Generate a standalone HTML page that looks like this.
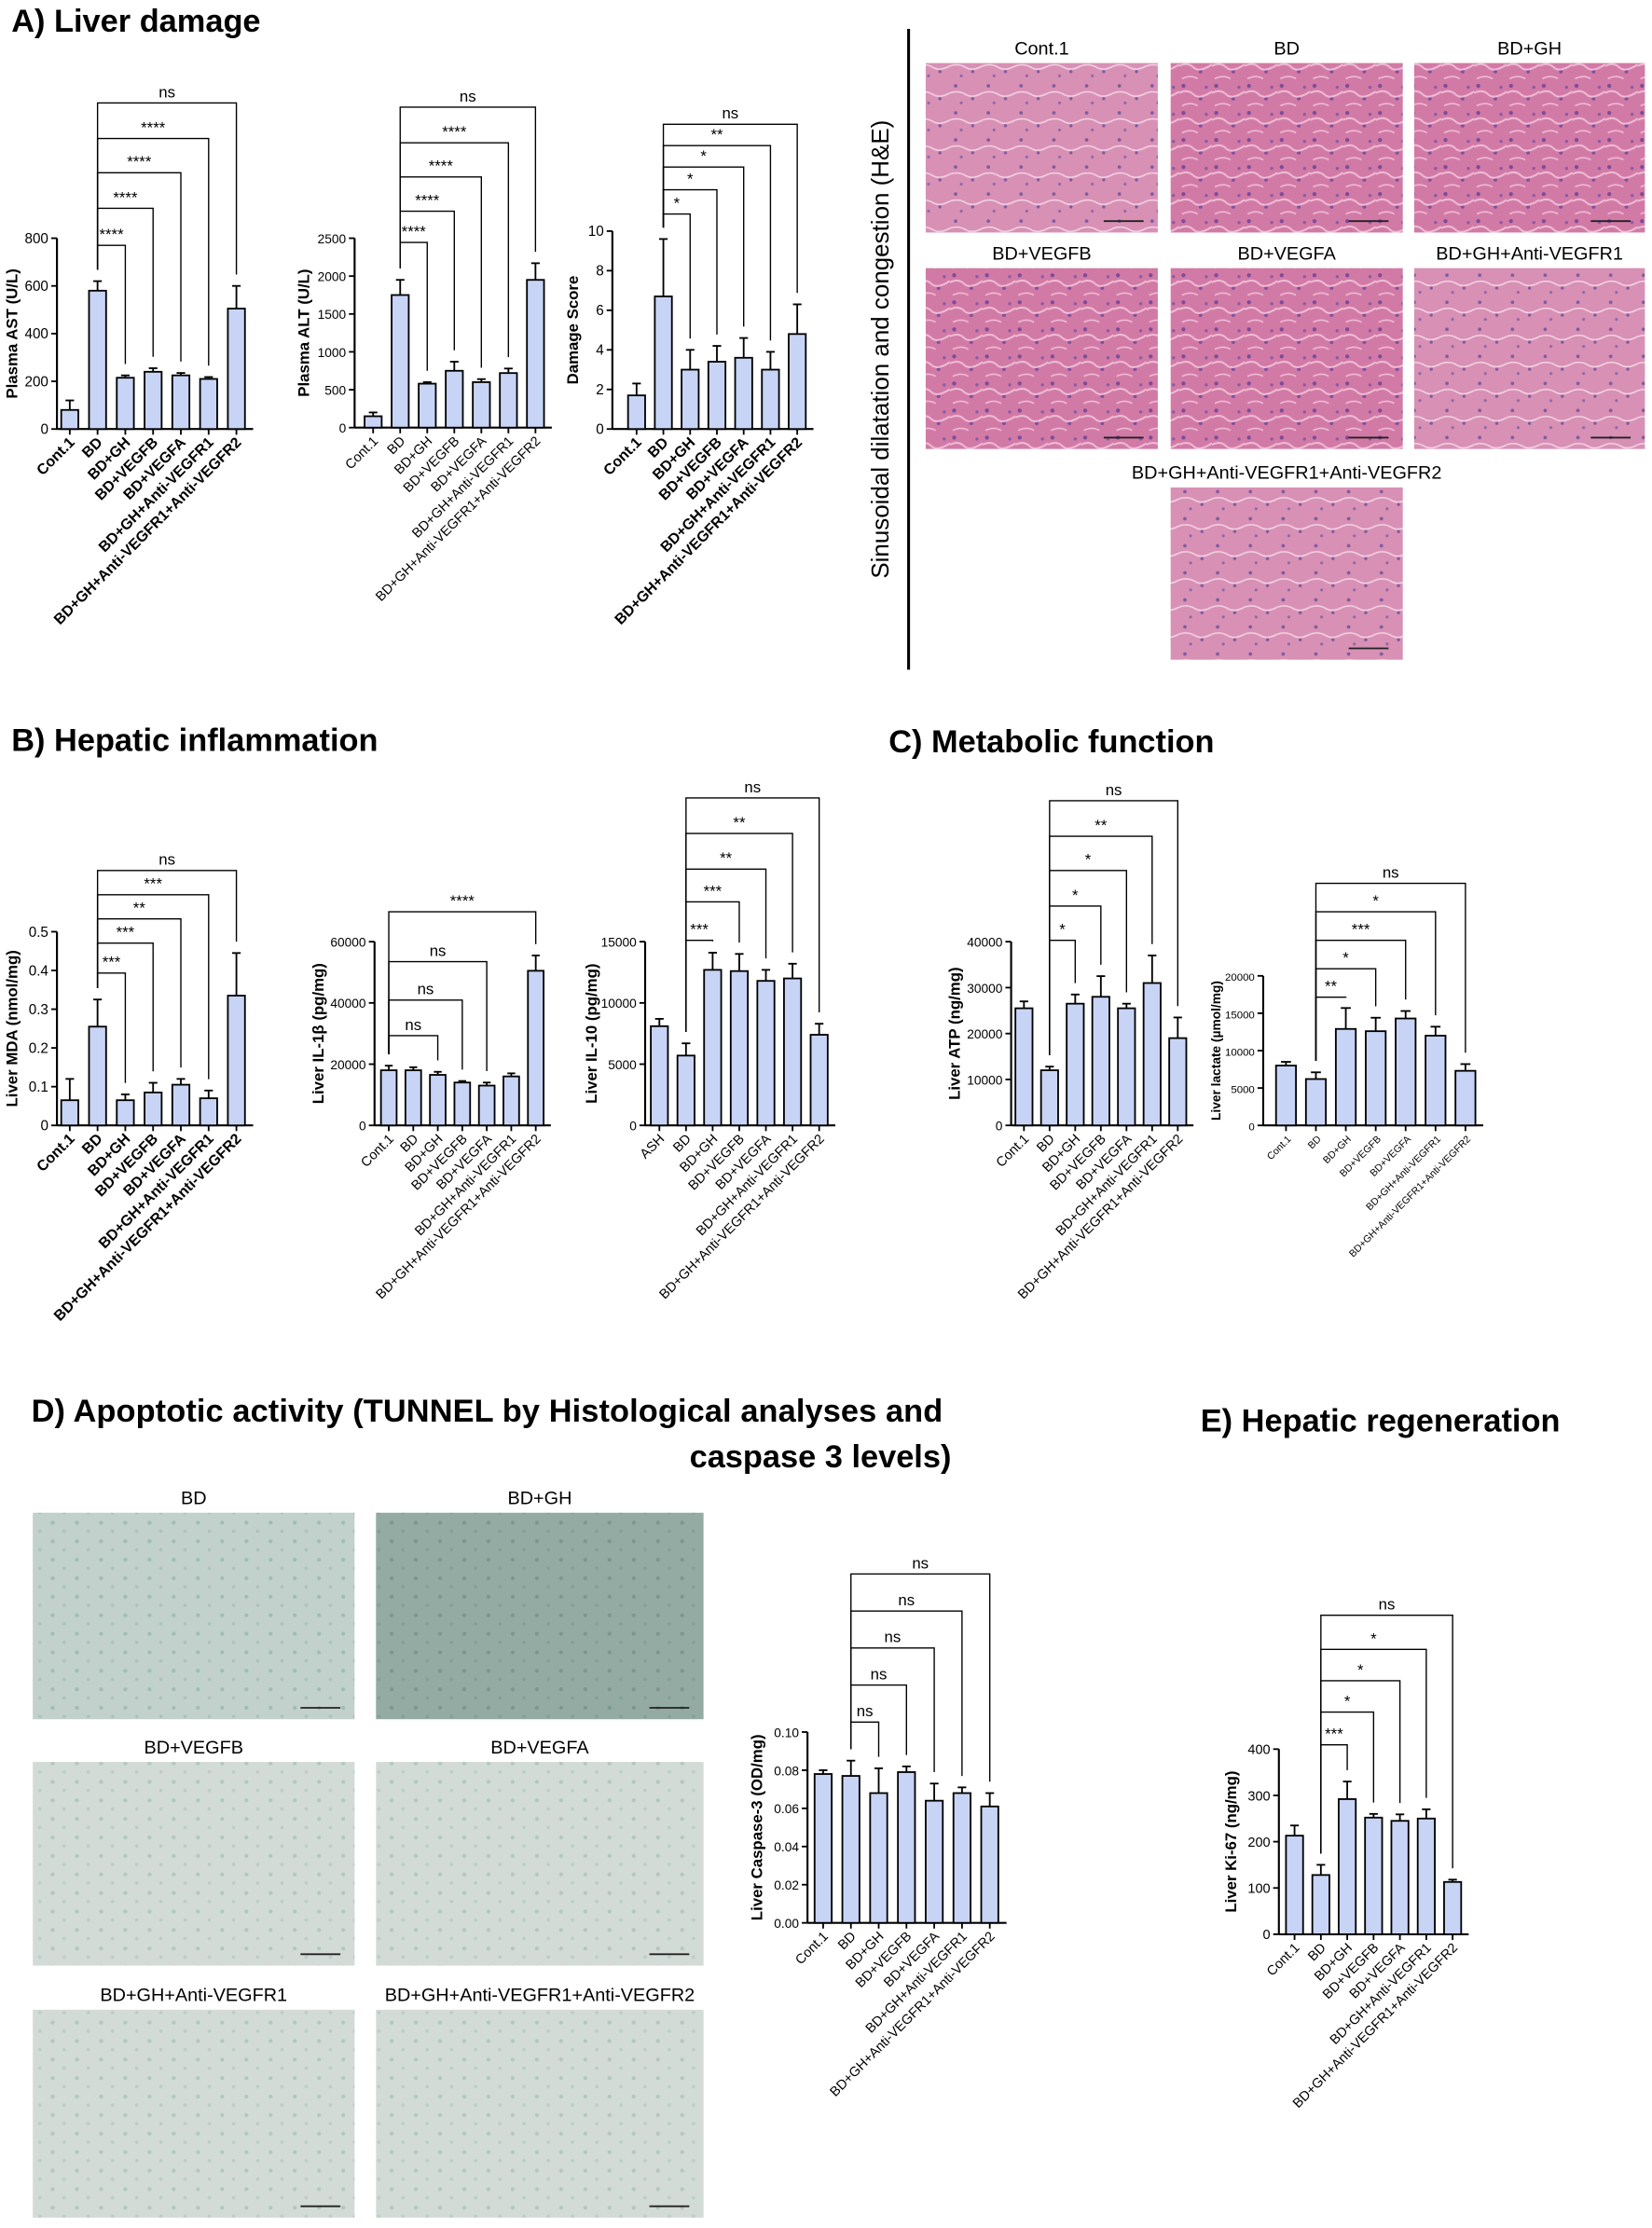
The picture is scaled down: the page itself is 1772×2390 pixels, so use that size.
<!DOCTYPE html>
<html><head><meta charset="utf-8"><style>
html,body{margin:0;padding:0;background:#fff}
svg{display:block}
text{font-family:"Liberation Sans",sans-serif}
</style></head><body>
<svg id="fig" xmlns="http://www.w3.org/2000/svg" width="1772" height="2390" viewBox="0 0 1160 1564">
<defs>
<pattern id="he" width="23" height="19" patternUnits="userSpaceOnUse">
<rect width="23" height="19" fill="#d27aa6"/>
<circle cx="3" cy="3" r="1.4" fill="#7b4b9a"/><circle cx="15" cy="12" r="1.3" fill="#80509e"/><circle cx="19" cy="4" r="1.1" fill="#8a5aa5"/>
<path d="M0 8 Q6 5 10 9 T23 7" stroke="#eebcd5" stroke-width="1.3" fill="none"/>
<path d="M2 17 Q8 14 13 17" stroke="#eebcd5" stroke-width="1.1" fill="none"/>
</pattern>
<pattern id="he2" width="23" height="19" patternUnits="userSpaceOnUse">
<rect width="23" height="19" fill="#d890b5"/>
<circle cx="4" cy="3" r="1.2" fill="#7d5aa0"/><circle cx="16" cy="12" r="1.1" fill="#7d5aa0"/><circle cx="8" cy="15" r="1" fill="#8a66a8"/>
<path d="M0 8 Q6 6 11 9 T23 8" stroke="#f1d0e1" stroke-width="1.1" fill="none"/>
</pattern>
<pattern id="tu" width="17" height="13" patternUnits="userSpaceOnUse">
<rect width="17" height="13" fill="#d3dbd6"/>
<circle cx="3" cy="3" r="1.4" fill="#b0c8c0"/><circle cx="11" cy="9" r="1.2" fill="#b9cec7"/>
</pattern>
<pattern id="tu2" width="17" height="13" patternUnits="userSpaceOnUse">
<rect width="17" height="13" fill="#94aba4"/>
<circle cx="3" cy="3" r="1.4" fill="#7a978f"/><circle cx="11" cy="9" r="1.2" fill="#849f97"/>
</pattern>
<pattern id="tu3" width="17" height="13" patternUnits="userSpaceOnUse">
<rect width="17" height="13" fill="#c3d1cc"/>
<circle cx="3" cy="3" r="1.4" fill="#9fbdb3"/><circle cx="11" cy="9" r="1.2" fill="#abc3bb"/>
</pattern>
</defs>

<text x="8" y="22" font-size="22.5" font-weight="bold">A) Liver damage</text>
<text x="8" y="527" font-size="22.5" font-weight="bold">B) Hepatic inflammation</text>
<text x="624" y="528" font-size="22.5" font-weight="bold">C) Metabolic function</text>
<text x="22" y="998" font-size="22.5" font-weight="bold" textLength="640">D) Apoptotic activity (TUNNEL by Histological analyses and</text>
<text x="668" y="1030" font-size="22.5" font-weight="bold" text-anchor="end">caspase 3 levels)</text>
<text x="843" y="1005" font-size="22.5" font-weight="bold">E) Hepatic regeneration</text>

<line x1="638" y1="20" x2="638" y2="470" stroke="#000" stroke-width="2"/>
<text transform="translate(624,245) rotate(-90)" font-size="17" text-anchor="middle">Sinusoidal dilatation and congestion (H&amp;E)</text>
<g id="hist"></g>
<g id="charts"></g>
</svg>
<script>
const NS="http://www.w3.org/2000/svg";
function mk(tag,attrs,parent,txt){const e=document.createElementNS(NS,tag);for(const k in attrs)e.setAttribute(k,attrs[k]);if(txt!==undefined)e.textContent=txt;parent.appendChild(e);return e;}

// ---- data ----
const catsA = ["Cont.1","BD","BD+GH","BD+VEGFB","BD+VEGFA","BD+GH+Anti-VEGFR1","BD+GH+Anti-VEGFR1+Anti-VEGFR2"];
const catsIL10 = ["ASH","BD","BD+GH","BD+VEGFB","BD+VEGFA","BD+GH+Anti-VEGFR1","BD+GH+Anti-VEGFR1+Anti-VEGFR2"];
const astValues=[80,580,215,240,225,210,505];
const astErrors=[40,40,10,15,10,8,95];
const astTicks=[0,200,400,600,800];
const altValues=[150,1750,580,750,600,720,1950];
const altErrors=[50,200,20,120,40,60,220];
const altTicks=[0,500,1000,1500,2000,2500];
const dmgValues=[1.7,6.7,3,3.4,3.6,3,4.8];
const dmgErrors=[0.6,2.9,1,0.8,1,0.9,1.5];
const dmgTicks=[0,2,4,6,8,10];
const mdaValues=[0.065,0.255,0.065,0.085,0.105,0.07,0.335];
const mdaErrors=[0.055,0.07,0.015,0.025,0.015,0.02,0.11];
const mdaTicks=[0,0.1,0.2,0.3,0.4,0.5];
const il1Values=[18000,18000,16500,14000,13000,16000,50500];
const il1Errors=[1500,1000,1000,500,1000,1000,5000];
const il1Ticks=[0,20000,40000,60000];
const il10Values=[8100,5700,12700,12600,11800,12000,7400];
const il10Errors=[600,1000,1400,1400,900,1200,900];
const il10Ticks=[0,5000,10000,15000];
const atpValues=[25500,12000,26500,28000,25500,31000,19000];
const atpErrors=[1500,800,2000,4500,1000,6000,4500];
const atpTicks=[0,10000,20000,30000,40000];
const lacValues=[8000,6200,12900,12600,14300,12000,7300];
const lacErrors=[500,900,2800,1800,1000,1200,900];
const lacTicks=[0,5000,10000,15000,20000];
const caspValues=[0.078,0.077,0.068,0.079,0.064,0.068,0.061];
const caspErrors=[0.002,0.008,0.013,0.003,0.009,0.003,0.007];
const caspTicks=[0,0.02,0.04,0.06,0.08,0.10];
const caspTickLabels=["0.00","0.02","0.04","0.06","0.08","0.10"];
const kiValues=[213,128,292,252,245,250,113];
const kiErrors=[22,22,38,8,14,20,5];
const kiTicks=[0,100,200,300,400];
const astSig=["****","****","****","****","ns"];
const altSig=["****","****","****","****","ns"];
const dmgSig=["*","*","*","**","ns"];
const mdaSig=["***","***","**","***","ns"];
const il1Sig=["ns","ns","ns","****"];
const il10Sig=["***","***","**","**","ns"];
const atpSig=["*","*","*","**","ns"];
const lacSig=["**","*","***","*","ns"];
const caspSig=["ns","ns","ns","ns","ns"];
const kiSig=["***","*","*","*","ns"];

const root=document.getElementById('charts');
function chart(name,c,cats,vals,errs,ticks,tickLabels,sig,title){
  const g=mk('g',{},root);
  
  
  const max=ticks[ticks.length-1];
  const ys=v=>c.y0-(v/max)*(c.y0-c.yt);
  const xs=i=>c.x0+c.first+i*c.step;
  const bw=c.bw;
  const ya=mk('line',{x1:c.x0,y1:c.yt,x2:c.x0,y2:c.y0,stroke:'#000','stroke-width':1.4},g);
  
  const xa=mk('line',{x1:c.x0,y1:c.y0,x2:xs(cats.length-1)+c.step/2+2,y2:c.y0,stroke:'#000','stroke-width':1.4},g);
  
  ticks.forEach((t,i)=>{
    const y=ys(t);
    mk('line',{x1:c.x0-4,y1:y,x2:c.x0,y2:y,stroke:'#000','stroke-width':1.2},g);
    const tl=mk('text',{x:c.x0-6,y:y+3.5,'font-size':c.tf||10,'text-anchor':'end'},g,tickLabels?tickLabels[i]:String(t));
    
  });
  const yt=mk('text',{transform:`translate(${c.x0-c.tOff},${(c.y0+c.yt)/2}) rotate(-90)`,'font-size':c.tsz||11,'text-anchor':'middle','font-weight':'bold'},g,title);
  
  cats.forEach((cat,i)=>{
    const x=xs(i),top=ys(vals[i]),et=ys(vals[i]+errs[i]);
    const b=mk('rect',{x:x-bw/2,y:top,width:bw,height:c.y0-top,fill:'#c8d4f6',stroke:'#000','stroke-width':1.2},g);
    
    
    mk('line',{x1:x,y1:top,x2:x,y2:et,stroke:'#000','stroke-width':1.2},g);
    mk('line',{x1:x-bw/4,y1:et,x2:x+bw/4,y2:et,stroke:'#000','stroke-width':1.2},g);
    mk('line',{x1:x,y1:c.y0,x2:x,y2:c.y0+4,stroke:'#000','stroke-width':1.2},g);
    const l=mk('text',{transform:`translate(${x+4},${c.y0+10}) rotate(-45)`,'font-size':c.lf||10,'text-anchor':'end','font-weight':c.bold?'bold':'normal'},g,cat);
    
  });
  const from=c.from, fx=xs(from);
  const targets=c.targets;
  sig.forEach((s,k)=>{
    const ti=targets[k], tx=xs(ti);
    const y=c.by[k];
    const fy=ys(vals[from]+errs[from])-8, ty=ys(vals[ti]+errs[ti])-8;
    const p=mk('path',{d:`M${fx} ${fy}V${y}H${tx}V${ty}`,fill:'none',stroke:'#000','stroke-width':0.9},g);
    
    const st=mk('text',{x:(fx+tx)/2,y:y-4,'font-size':11,'text-anchor':'middle'},g,s);
    
  });
}
chart('plasma-ast',{x0:40,y0:301,yt:167,first:9,step:19.5,bw:12,tOff:28,bold:true,lf:10.5,from:1,targets:[2,3,4,5,6],by:[172,146,121,97,72]},catsA,astValues,astErrors,astTicks,null,astSig,'Plasma AST (U/L)');
chart('plasma-alt',{x0:249,y0:300,yt:167,first:13,step:19,bw:12,tOff:32,tf:9,lf:9.5,from:1,targets:[2,3,4,5,6],by:[170,148,124,100,75]},catsA,altValues,altErrors,altTicks,null,altSig,'Plasma ALT (U/L)');
chart('damage-score',{x0:430,y0:301,yt:162,first:17,step:18.8,bw:12,tOff:24,bold:true,lf:10.5,from:1,targets:[2,3,4,5,6],by:[150,133,117,102,87]},catsA,dmgValues,dmgErrors,dmgTicks,null,dmgSig,'Damage Score');
chart('liver-mda',{x0:40,y0:790,yt:654,first:9,step:19.5,bw:12,tOff:28,bold:true,lf:10.5,from:1,targets:[2,3,4,5,6],by:[683,662,645,628,611]},catsA,mdaValues,mdaErrors,mdaTicks,null,mdaSig,'Liver MDA (nmol/mg)');
chart('liver-il1b',{x0:263,y0:790,yt:661,first:10,step:17.2,bw:11,tOff:36,tf:9,lf:9.5,from:0,targets:[2,3,4,6],by:[727,702,675,640]},catsA,il1Values,il1Errors,il1Ticks,null,il1Sig,'Liver IL-1β (pg/mg)');
chart('liver-il10',{x0:453,y0:790,yt:661,first:10,step:18.7,bw:12,tOff:34,tf:9,lf:9.5,from:1,targets:[2,3,4,5,6],by:[660,633,610,585,560]},catsIL10,il10Values,il10Errors,il10Ticks,null,il10Sig,'Liver IL-10 (pg/mg)');
chart('liver-atp',{x0:710,y0:790,yt:661,first:9,step:18,bw:12,tOff:36,tf:9,lf:9.5,from:1,targets:[2,3,4,5,6],by:[660,636,611,587,562]},catsA,atpValues,atpErrors,atpTicks,null,atpSig,'Liver ATP (ng/mg)');
chart('liver-lactate',{x0:887,y0:790,yt:685,first:16,step:21,bw:14,tOff:30,tf:7.5,lf:7,tsz:9,from:1,targets:[2,3,4,5,6],by:[700,680,660,640,620]},catsA,lacValues,lacErrors,lacTicks,null,lacSig,'Liver lactate (µmol/mg)');
chart('liver-caspase3',{x0:567,y0:1350,yt:1216,first:11,step:19.5,bw:12,tOff:32,tf:9,lf:9.5,from:1,targets:[2,3,4,5,6],by:[1209,1183,1157,1131,1105]},catsA,caspValues,caspErrors,caspTicks,caspTickLabels,caspSig,'Liver Caspase-3 (OD/mg)');
chart('liver-ki67',{x0:898,y0:1358,yt:1228,first:11,step:18.5,bw:12,tOff:30,tf:9.5,lf:9.5,from:1,targets:[2,3,4,5,6],by:[1225,1202,1180,1158,1134]},catsA,kiValues,kiErrors,kiTicks,null,kiSig,'Liver Ki-67 (ng/mg)');

const hist=document.getElementById('hist');
const panels=[
 ['Cont.1',650,44,163,119,'he2'],['BD',822,44,163,119,'he'],['BD+GH',993,44,162,119,'he'],
 ['BD+VEGFB',650,188,163,127,'he'],['BD+VEGFA',822,188,163,127,'he'],['BD+GH+Anti-VEGFR1',993,188,162,127,'he2'],
 ['BD+GH+Anti-VEGFR1+Anti-VEGFR2',822,342,163,121,'he2'],
 ['BD',23,1062,226,145,'tu3'],['BD+GH',264,1062,230,145,'tu2'],
 ['BD+VEGFB',23,1237,226,143,'tu'],['BD+VEGFA',264,1237,230,143,'tu'],
 ['BD+GH+Anti-VEGFR1',23,1411,226,146,'tu'],['BD+GH+Anti-VEGFR1+Anti-VEGFR2',264,1411,230,146,'tu']
];
panels.forEach(p=>{
  const r=mk('rect',{x:p[1],y:p[2],width:p[3],height:p[4],fill:`url(#${p[5]})`},hist);
  
  
  mk('line',{x1:p[1]+p[3]-38,y1:p[2]+p[4]-8,x2:p[1]+p[3]-10,y2:p[2]+p[4]-8,stroke:'#222','stroke-width':1.2},hist);
  const t=mk('text',{x:p[1]+p[3]/2,y:p[2]-6,'font-size':13,'text-anchor':'middle'},hist,p[0]);
  
  
});
</script>
</body></html>
